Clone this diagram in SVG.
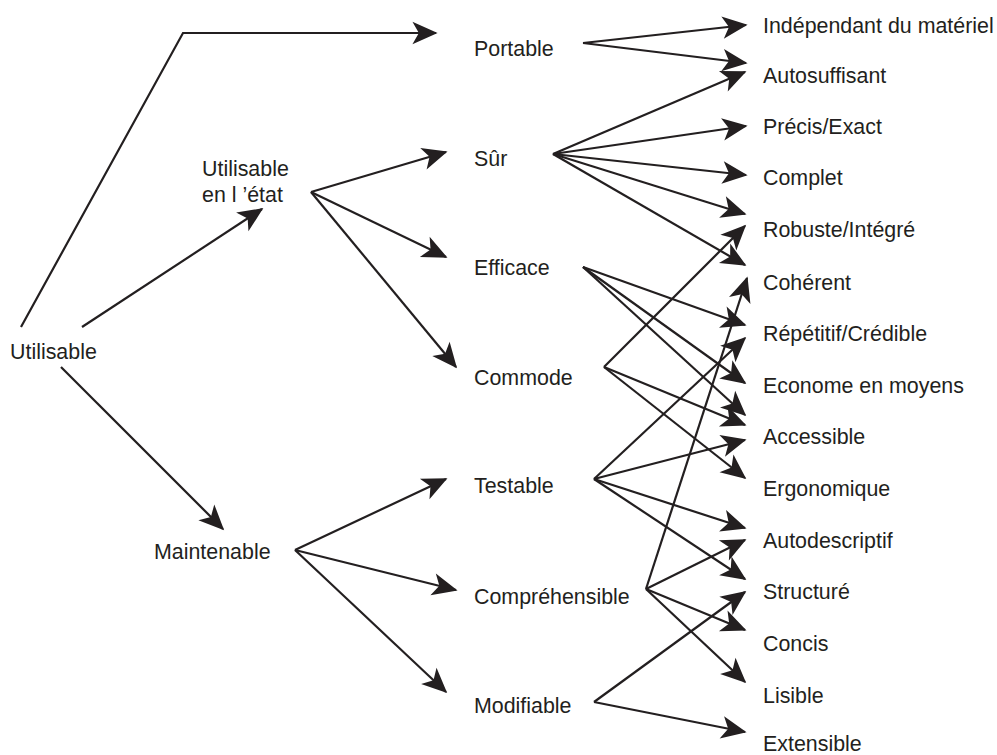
<svg xmlns="http://www.w3.org/2000/svg" width="997" height="755" viewBox="0 0 997 755">
<style>
text{font-family:"Liberation Sans",Arial,sans-serif;font-size:21.4px;fill:#231f20}
.c path,.c polyline{fill:none;stroke:#231f20;stroke-width:2.2;marker-end:url(#ah)}
</style>
<defs>
<marker id="ah" markerUnits="userSpaceOnUse" markerWidth="30" markerHeight="30" viewBox="-25 -12 28 24" refX="0" refY="0" orient="auto">
<path d="M1.5,0 L-22,-10.5 L-16,0 L-22,10.5 Z" fill="#231f20"/>
</marker>
</defs>
<rect width="997" height="755" fill="#fff"/>
<g id="connectors" class="c">
<polyline points="21,327 183,33 436,33"/>
<path d="M82,327 L262,209"/>
<path d="M61,367 L223,529"/>
<path d="M311,192 L446,152"/>
<path d="M311,192 L446,257"/>
<path d="M311,192 L456,367"/>
<path d="M295,550 L446,479"/>
<path d="M295,550 L456,590"/>
<path d="M295,550 L446,692"/>
<path d="M583,43 L746,25"/>
<path d="M583,43 L746,63"/>
<path d="M553,154 L745,72"/>
<path d="M553,154 L746,126"/>
<path d="M553,154 L746,175"/>
<path d="M553,154 L745,214"/>
<path d="M553,154 L745,265"/>
<path d="M583,267 L745,325"/>
<path d="M583,267 L745,383"/>
<path d="M583,267 L745,415"/>
<path d="M604,367 L745,226"/>
<path d="M604,367 L745,425"/>
<path d="M604,367 L745,478"/>
<path d="M594,479 L745,338"/>
<path d="M594,479 L745,440"/>
<path d="M594,479 L745,528"/>
<path d="M594,479 L745,579"/>
<path d="M646,589 L747,278"/>
<path d="M646,589 L745,540"/>
<path d="M646,589 L745,630"/>
<path d="M646,589 L745,682"/>
<path d="M594,702 L745,592"/>
<path d="M594,702 L745,732"/>
</g>
<g id="n-utilisable"><text x="10" y="359">Utilisable</text></g>
<g id="n-etat"><text x="202" y="176">Utilisable</text><text x="202" y="202">en l ’état</text></g>
<g id="n-maintenable"><text x="154" y="559">Maintenable</text></g>
<g id="n-portable"><text x="474" y="56">Portable</text></g>
<g id="n-sur"><text x="474" y="166">Sûr</text></g>
<g id="n-efficace"><text x="474" y="275">Efficace</text></g>
<g id="n-commode"><text x="474" y="385">Commode</text></g>
<g id="n-testable"><text x="474" y="493">Testable</text></g>
<g id="n-comprehensible"><text x="474" y="604">Compréhensible</text></g>
<g id="n-modifiable"><text x="474" y="713">Modifiable</text></g>
<g id="n-independant"><text x="763" y="33">Indépendant du matériel</text></g>
<g id="n-autosuffisant"><text x="763" y="83">Autosuffisant</text></g>
<g id="n-precis"><text x="763" y="134">Précis/Exact</text></g>
<g id="n-complet"><text x="763" y="185">Complet</text></g>
<g id="n-robuste"><text x="763" y="237">Robuste/Intégré</text></g>
<g id="n-coherent"><text x="763" y="290">Cohérent</text></g>
<g id="n-repetitif"><text x="763" y="341">Répétitif/Crédible</text></g>
<g id="n-econome"><text x="763" y="393">Econome en moyens</text></g>
<g id="n-accessible"><text x="763" y="444">Accessible</text></g>
<g id="n-ergonomique"><text x="763" y="496">Ergonomique</text></g>
<g id="n-autodescriptif"><text x="763" y="548">Autodescriptif</text></g>
<g id="n-structure"><text x="763" y="599">Structuré</text></g>
<g id="n-concis"><text x="763" y="651">Concis</text></g>
<g id="n-lisible"><text x="763" y="703">Lisible</text></g>
<g id="n-extensible"><text x="763" y="751">Extensible</text></g>
</svg>
